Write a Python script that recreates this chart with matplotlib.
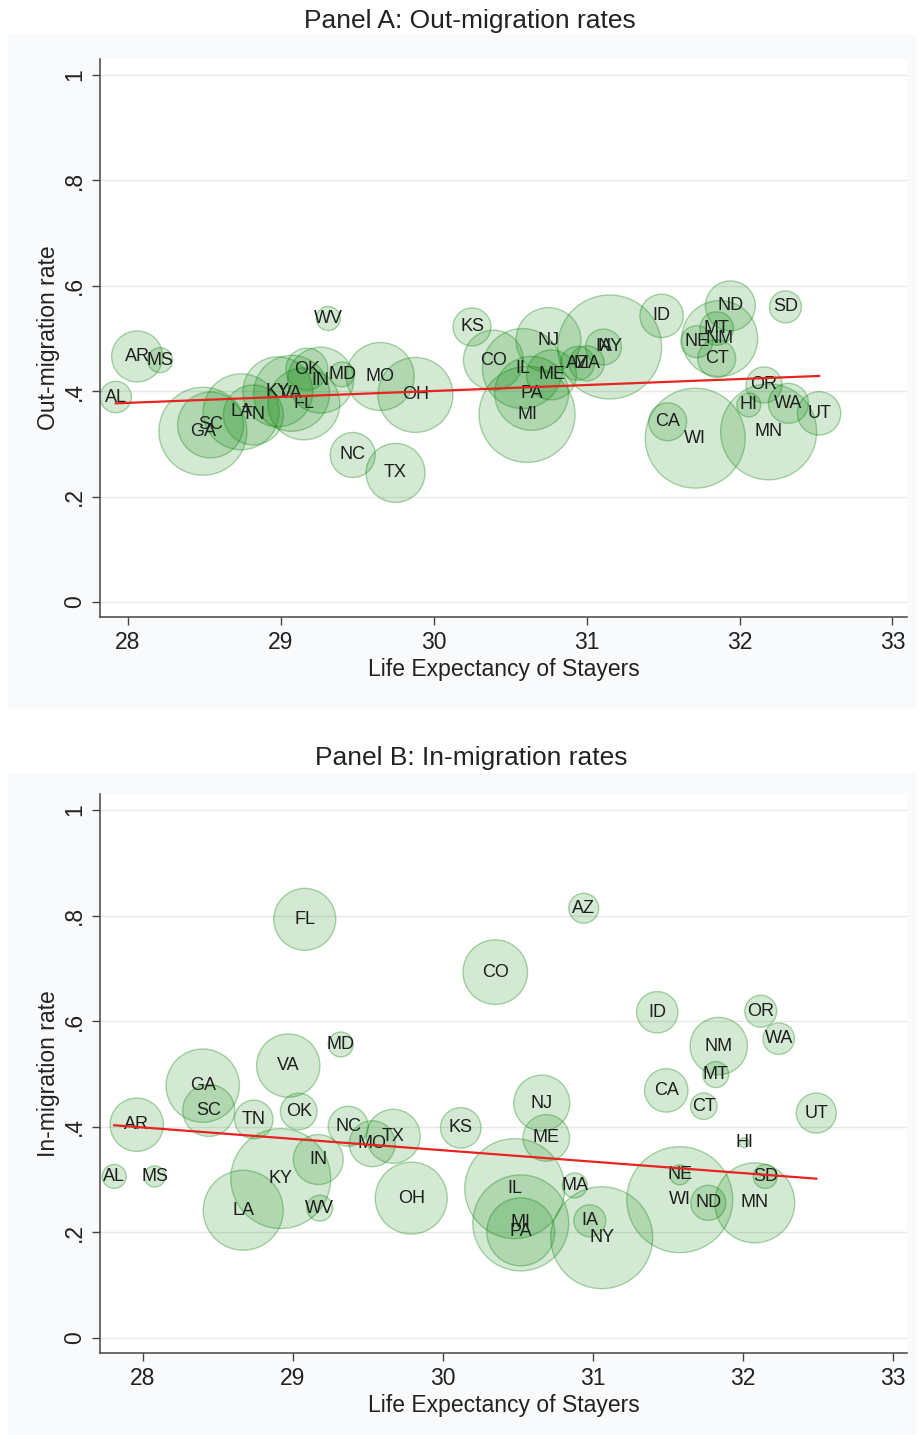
import numpy as np
import matplotlib.pyplot as plt
from matplotlib.patches import Rectangle

# state order shared by both panels
states = ["AL", "AR", "MS", "GA", "SC", "LA", "TN", "KY", "VA", "FL", "OK", "IN",
          "MD", "WV", "MO", "OH", "NC", "TX", "KS", "CO", "NJ", "IL", "ME", "PA",
          "MI", "AZ", "MA", "IA", "NY", "ID", "ND", "SD", "MT", "NE", "NM", "CT",
          "OR", "HI", "WA", "UT", "CA", "WI", "MN"]

# panel A: out-migration
le_out = [27.92, 28.06, 28.21, 28.49, 28.54, 28.74, 28.82, 28.98, 29.07, 29.15, 29.17, 29.26,
          29.40, 29.31, 29.65, 29.88, 29.47, 29.75, 30.25, 30.39, 30.75, 30.58, 30.77, 30.64,
          30.61, 30.94, 31.00, 31.11, 31.15, 31.49, 31.94, 32.30, 31.85, 31.72, 31.87, 31.85,
          32.16, 32.06, 32.32, 32.52, 31.53, 31.71, 32.19]
out_rate = [0.389, 0.466, 0.459, 0.324, 0.336, 0.361, 0.355, 0.399, 0.396, 0.376, 0.442, 0.421,
            0.432, 0.538, 0.428, 0.393, 0.279, 0.245, 0.522, 0.459, 0.497, 0.443, 0.431, 0.396,
            0.356, 0.453, 0.453, 0.484, 0.484, 0.543, 0.562, 0.560, 0.519, 0.494, 0.500, 0.462,
            0.412, 0.374, 0.377, 0.358, 0.342, 0.311, 0.323]
wt_out = [62, 163, 39, 484, 272, 361, 225, 306, 361, 324, 110, 272,
          39, 36, 289, 352, 127, 218, 90, 225, 264, 400, 156, 342,
          576, 72, 77, 81, 676, 118, 156, 64, 70, 64, 361, 90,
          81, 36, 100, 118, 90, 625, 576]
fit_out = [0.0618, 0.01129]   # intercept, slope

# panel B: in-migration
le_in = [27.81, 27.96, 28.08, 28.40, 28.44, 28.67, 28.74, 28.92, 28.97, 29.08, 29.04, 29.17,
         29.32, 29.18, 29.53, 29.79, 29.37, 29.67, 30.12, 30.35, 30.66, 30.48, 30.69, 30.52,
         30.52, 30.94, 30.88, 30.98, 31.06, 31.43, 31.77, 32.15, 31.82, 31.58, 31.84, 31.74,
         32.12, 32.01, 32.24, 32.49, 31.49, 31.58, 32.08]
in_rate = [0.306, 0.404, 0.306, 0.478, 0.431, 0.242, 0.414, 0.302, 0.516, 0.793, 0.429, 0.338,
           0.556, 0.246, 0.368, 0.265, 0.401, 0.382, 0.398, 0.693, 0.445, 0.283, 0.379, 0.201,
           0.218, 0.814, 0.289, 0.222, 0.190, 0.617, 0.256, 0.306, 0.499, 0.309, 0.553, 0.439,
           0.619, 0.370, 0.567, 0.426, 0.469, 0.262, 0.256]
wt_in = [36, 178, 28, 337, 169, 400, 93, 625, 251, 240, 84, 156,
         39, 42, 132, 324, 100, 182, 103, 261, 196, 625, 136, 289,
         576, 56, 39, 64, 650, 107, 77, 36, 42, 25, 206, 44,
         64, 6, 62, 100, 118, 702, 400]
fit_in = [1.0039, -0.02161]

yticks = [0, 0.2, 0.4, 0.6, 0.8, 1]
ytick_labels = ["0", ".2", ".4", ".6", ".8", "1"]
xticks = [28, 29, 30, 31, 32, 33]

plt.rcParams['font.family'] = ['Liberation Sans', 'DejaVu Sans']

W, H = 920, 1435
fig = plt.figure(figsize=(W / 100, H / 100), dpi=100)


def px_rect(x0, y0, x1, y1):
    return [x0 / W, 1 - y1 / H, (x1 - x0) / W, (y1 - y0) / H]


# faint graph region behind each panel
for y0, y1 in [(35, 708), (773, 1435)]:
    r = px_rect(8, y0, 916, y1)
    fig.add_artist(Rectangle((r[0], r[1]), r[2], r[3], transform=fig.transFigure,
                             facecolor='#f9fafb', edgecolor='none', zorder=-1))

ax_a = fig.add_axes(px_rect(100, 58.7, 907, 617.3))
ax_b = fig.add_axes(px_rect(100, 793.7, 907, 1353.3))

BUBBLE_SCALE = 8.29


def draw_panel(ax, x, y, wt, fit, ylabel, xlim):
    x = np.array(x)
    y = np.array(y)
    ax.scatter(x, y, s=np.array(wt) * BUBBLE_SCALE, facecolor=(0, 0.5, 0, 0.17),
               edgecolor=(0, 0.5, 0, 0.32), linewidth=1.0, zorder=2)
    for st, xi, yi in zip(states, x, y):
        ax.text(xi, yi, st, ha='center', va='center', fontsize=13, color='#1e1e1e', zorder=3)
    xs = np.array([x.min(), x.max()])
    ax.plot(xs, fit[0] + fit[1] * xs, color='#e8221e', lw=1.6, zorder=4)

    ax.set_xlim(*xlim)
    ax.set_ylim(-0.029, 1.031)
    ax.set_xticks(xticks)
    ax.set_xticklabels([str(t) for t in xticks])
    ax.set_yticks(yticks)
    ax.set_yticklabels(ytick_labels, rotation=90, va='center')
    ax.yaxis.grid(True, color='#e8e8e8', lw=1.0)
    ax.set_axisbelow(True)
    for side in ['top', 'right']:
        ax.spines[side].set_visible(False)
    for side in ['left', 'bottom']:
        ax.spines[side].set_color('#444444')
        ax.spines[side].set_linewidth(1.1)
    ax.tick_params(direction='out', length=6, width=1, color='#444444',
                   labelsize=16.5, labelcolor='#222222', pad=4)
    ax.set_xlabel("Life Expectancy of Stayers", fontsize=16.5, color='#222222')
    ax.set_ylabel(ylabel, fontsize=16.5, color='#222222')
    ax.xaxis.set_label_coords(0.5, -0.073)
    ax.yaxis.set_label_coords(-0.049, 0.5)


draw_panel(ax_a, le_out, out_rate, wt_out, fit_out, "Out-migration rate", (27.817, 33.095))
draw_panel(ax_b, le_in, in_rate, wt_in, fit_in, "In-migration rate", (27.715, 33.095))

fig.text(469.5 / W, 1 - 21 / H, "Panel A: Out-migration rates", ha='center', va='center',
         fontsize=19, color='#222222')
fig.text(471 / W, 1 - 758 / H, "Panel B: In-migration rates", ha='center', va='center',
         fontsize=19, color='#222222')

fig.savefig('out.png', dpi=100)
